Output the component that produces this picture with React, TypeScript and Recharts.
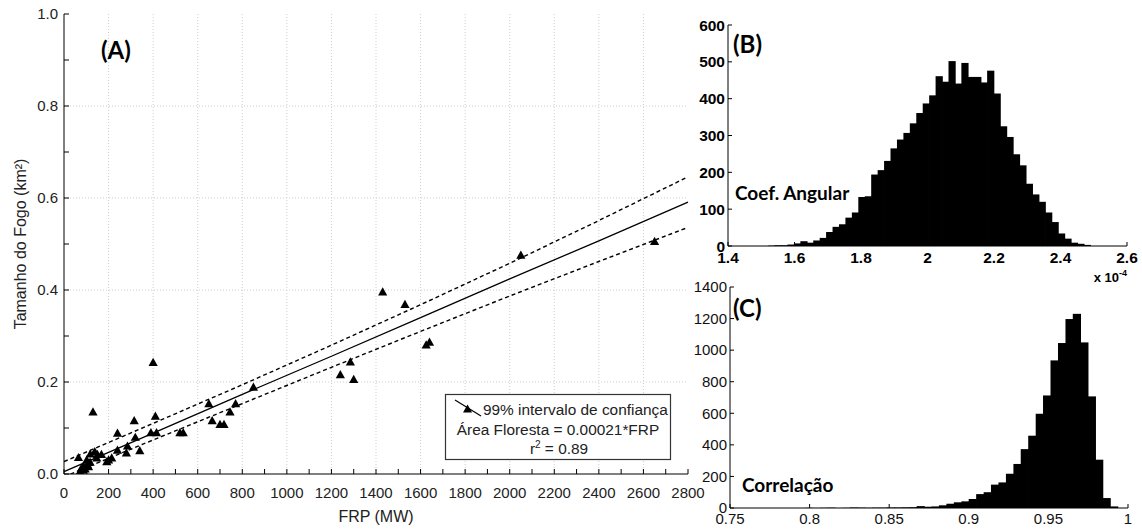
import React from 'react';
import { ComposedChart, XAxis, YAxis, Scatter, Line, Bar, ReferenceLine } from 'recharts';

// ---------- Panel A data ----------
const frpValues = [65, 130, 400, 240, 315, 410, 320, 390, 415, 520, 535, 650, 665, 700, 718, 745, 770, 850, 1240, 1285, 1300,
  240, 285, 280, 340, 192, 214, 138, 150, 118, 168, 147, 102, 117, 87, 95, 72, 87, 110, 104, 78, 200,
  1430, 1530, 1625, 1640, 2050, 2650];
const areaValues = [0.035, 0.134, 0.242, 0.088, 0.115, 0.125, 0.079, 0.089, 0.089, 0.089, 0.089, 0.152, 0.115, 0.107, 0.107, 0.134, 0.152, 0.188, 0.215, 0.243, 0.205,
  0.051, 0.06, 0.045, 0.05, 0.026, 0.034, 0.048, 0.042, 0.043, 0.042, 0.034, 0.03, 0.025, 0.016, 0.01, 0.005, 0.008, 0.015, 0.02, 0.012, 0.03,
  0.395, 0.368, 0.28, 0.286, 0.475, 0.505];

const bandFrp = [0, 400, 800, 1200, 1600, 2000, 2400, 2800];
const fitValues = [0.005, 0.089, 0.173, 0.256, 0.340, 0.424, 0.507, 0.591];
const upperValues = [0.027, 0.110, 0.194, 0.280, 0.368, 0.458, 0.551, 0.646];
const lowerValues = [-0.006, 0.074, 0.153, 0.232, 0.310, 0.387, 0.462, 0.536];

const aXTicks = [0, 100, 200, 300, 400, 500, 600, 700, 800, 900, 1000, 1100, 1200, 1300, 1400, 1500, 1600, 1700, 1800, 1900, 2000, 2100, 2200, 2300, 2400, 2500, 2600, 2700, 2800];
const aYTicks = [0, 0.1, 0.2, 0.3, 0.4, 0.5, 0.6, 0.7, 0.8, 0.9, 1.0];
const aGridX = [200, 400, 600, 800, 1000, 1200, 1400, 1600, 1800, 2000, 2200, 2400, 2600];
const aGridY = [0.2, 0.4, 0.6, 0.8];

// ---------- Panel B data (x 1e-4) ----------
const slopeBins = [1.5322, 1.5516, 1.5709, 1.5903, 1.6097, 1.6291, 1.6484, 1.6678, 1.6872, 1.7065, 1.7259, 1.7453, 1.7646, 1.7840, 1.8034, 1.8228, 1.8421, 1.8615, 1.8809, 1.9002, 1.9196, 1.9390, 1.9583, 1.9777, 1.9971, 2.0165, 2.0358, 2.0552, 2.0746, 2.0939, 2.1133, 2.1327, 2.1520, 2.1714, 2.1908, 2.2102, 2.2295, 2.2489, 2.2683, 2.2876, 2.3070, 2.3264, 2.3457, 2.3651, 2.3845, 2.4039, 2.4232, 2.4426, 2.4620, 2.4813];
const slopeCounts = [1, 2, 2, 4, 7, 13, 9, 15, 22, 38, 52, 59, 77, 91,
  133, 135, 194, 206, 231, 265, 289, 307, 333, 361, 387, 409,
  461, 446, 502, 441, 497, 459, 459, 444, 476, 414, 325, 296, 249, 219, 169, 140, 120, 91, 65, 34, 20, 9, 6, 3];
const bXTicks = [1.4, 1.6, 1.8, 2, 2.2, 2.4, 2.6];
const bYTicks = [0, 100, 200, 300, 400, 500, 600];

// ---------- Panel C data ----------
const corrBins = [0.7625, 0.7672, 0.7718, 0.7765, 0.7812, 0.7858, 0.7905, 0.7952, 0.7999, 0.8045, 0.8092, 0.8139, 0.8185, 0.8232, 0.8279, 0.8326, 0.8372, 0.8419, 0.8466, 0.8512, 0.8559, 0.8606, 0.8653, 0.8699, 0.8746, 0.8793, 0.8839, 0.8886, 0.8933, 0.8980, 0.9026, 0.9073, 0.9120, 0.9166, 0.9213, 0.9260, 0.9307, 0.9353, 0.9400, 0.9447, 0.9493, 0.9540, 0.9587, 0.9634, 0.9680, 0.9727, 0.9774, 0.9820, 0.9867, 0.9914];
const corrCounts = [0, 0, 0, 0, 0, 0, 0, 0, 1, 0,
  1, 2, 0, 1, 3, 2, 1, 2, 2, 3,
  3, 4, 5, 12, 8, 10, 17, 27, 36, 42,
  57, 88, 100, 148, 162, 217, 279, 373, 458, 597,
  713, 935, 1045, 1197, 1230, 1049, 707, 306, 63, 10];
const cXTicks = [0.75, 0.8, 0.85, 0.9, 0.95, 1];
const cYTicks = [0, 200, 400, 600, 800, 1000, 1200, 1400];

// ---------- derived tables ----------
const scatterData = frpValues.map((x, i) => ({ x, y: areaValues[i] }));
const fitData = bandFrp.map((x, i) => ({ x, y: fitValues[i] }));
const upperData = bandFrp.map((x, i) => ({ x, y: upperValues[i] }));
const lowerData = bandFrp.map((x, i) => ({ x, y: lowerValues[i] }));
const slopeData = slopeBins.map((x, i) => ({ x, y: slopeCounts[i] }));
const corrData = corrBins.map((x, i) => ({ x, y: corrCounts[i] }));

const SANS = '"Liberation Sans", Arial, sans-serif';
const LABELF = 'Lato, "Open Sans", sans-serif';

const Triangle = (p: any) => {
  const { cx, cy } = p;
  if (cx == null || cy == null) return null;
  return <polygon points={`${cx},${cy - 5} ${cx - 4.6},${cy + 3.2} ${cx + 4.6},${cy + 3.2}`} fill="#000" />;
};

// histogram bar: widened slightly so neighbouring bins touch (Recharts floors bar widths)
const HistBar = (p: any) => {
  const { x, y, width, height } = p;
  if (x == null || y == null || !height || height <= 0) return null;
  return <rect x={x - 0.6} y={y} width={width + 1.2} height={height} fill="#000" />;
};

const axisLine = { stroke: '#000', strokeWidth: 1 };
const tickLine = { stroke: '#000', strokeWidth: 1 };

function PanelA() {
  return (
    <ComposedChart width={720} height={529} margin={{ top: 14, right: 32, bottom: 0, left: 14 }}
      style={{ position: 'absolute', left: 0, top: 0 }}>
      <XAxis xAxisId="b" type="number" dataKey="x" domain={[0, 2800]} ticks={aXTicks} interval={0}
        tickFormatter={(v: number) => (v % 200 === 0 ? String(v) : '')}
        tickSize={-5} tickMargin={18} height={55} axisLine={axisLine} tickLine={tickLine}
        tick={{ fontSize: 15, fill: '#222', fontFamily: SANS }}
        label={{ value: 'FRP (MW)', position: 'insideBottom', offset: 7, style: { fontSize: 16, fill: '#222', fontFamily: SANS } }} />
      <XAxis xAxisId="t" orientation="top" type="number" dataKey="x" domain={[0, 2800]} ticks={aXTicks} interval={0}
        tick={false} tickSize={-5} height={0} axisLine={axisLine} tickLine={tickLine} />
      <YAxis yAxisId="l" type="number" dataKey="y" domain={[0, 1]} ticks={aYTicks} interval={0} allowDataOverflow
        tickFormatter={(v: number) => (Math.round(v * 10) % 2 === 0 ? v.toFixed(1) : '')}
        width={50} tickSize={-5} tickMargin={11} axisLine={axisLine} tickLine={tickLine}
        tick={{ fontSize: 15, fill: '#222', fontFamily: SANS }}
        label={{ value: 'Tamanho do Fogo (km²)', angle: -90, position: 'insideLeft', offset: 6, style: { textAnchor: 'middle', fontSize: 16, fill: '#222', fontFamily: SANS } }} />
      <YAxis yAxisId="r" orientation="right" type="number" dataKey="y" domain={[0, 1]} ticks={aYTicks} interval={0} allowDataOverflow
        tick={false} width={0} tickSize={-5} axisLine={axisLine} tickLine={tickLine} />
      {aGridX.map((v) => (
        <ReferenceLine key={'gx' + v} xAxisId="b" yAxisId="l" x={v} stroke="#cfcfcf" strokeDasharray="1 2" />
      ))}
      {aGridY.map((v) => (
        <ReferenceLine key={'gy' + v} xAxisId="b" yAxisId="l" y={v} stroke="#cfcfcf" strokeDasharray="1 2" />
      ))}
      <Line xAxisId="b" yAxisId="l" data={upperData} dataKey="y" type="linear" dot={false} stroke="#000" strokeWidth={1.4} strokeDasharray="4 3" isAnimationActive={false} />
      <Line xAxisId="b" yAxisId="l" data={lowerData} dataKey="y" type="linear" dot={false} stroke="#000" strokeWidth={1.4} strokeDasharray="4 3" isAnimationActive={false} />
      <Line xAxisId="b" yAxisId="l" data={fitData} dataKey="y" type="linear" dot={false} stroke="#000" strokeWidth={1.3} isAnimationActive={false} />
      <Scatter xAxisId="b" yAxisId="l" data={scatterData} dataKey="y" shape={Triangle} isAnimationActive={false} />
    </ComposedChart>
  );
}

const XExpLabel = (props: any) => {
  const vb = props.viewBox || {};
  return (
    <text x={vb.x + vb.width} y={vb.y + 36} textAnchor="end" fontSize={13} fontWeight="bold" fontFamily={SANS} fill="#000">
      x 10<tspan dy={-6} fontSize={9}>-4</tspan>
    </text>
  );
};

function PanelB() {
  return (
    <ComposedChart width={462} height={290} data={slopeData} barCategoryGap={0} barGap={0}
      margin={{ top: 25, right: 15, bottom: 0, left: 8 }}
      style={{ position: 'absolute', left: 680, top: 0 }}>
      <XAxis xAxisId="b" type="number" dataKey="x" domain={[1.4, 2.6]} ticks={bXTicks} interval={0}
        tickFormatter={(v: number) => String(+v.toFixed(1))}
        tickSize={-4} tickMargin={10} height={44} axisLine={axisLine} tickLine={tickLine}
        tick={{ fontSize: 15.5, fontWeight: 'bold', fill: '#000', fontFamily: SANS }}
        label={{ content: XExpLabel }} />
      <XAxis xAxisId="t" orientation="top" type="number" dataKey="x" domain={[1.4, 2.6]} ticks={bXTicks} interval={0}
        tick={false} tickSize={-4} height={0} axisLine={axisLine} tickLine={tickLine} />
      <YAxis yAxisId="l" type="number" domain={[0, 600]} ticks={bYTicks} interval={0}
        width={40} tickSize={-4} tickMargin={7} axisLine={axisLine} tickLine={tickLine}
        tick={{ fontSize: 15.5, fontWeight: 'bold', fill: '#000', fontFamily: SANS }} />
      <YAxis yAxisId="r" orientation="right" type="number" domain={[0, 600]} ticks={bYTicks} interval={0}
        tick={false} width={0} tickSize={-4} axisLine={axisLine} tickLine={tickLine} />
      <Bar xAxisId="b" yAxisId="l" dataKey="y" fill="#000" shape={HistBar} isAnimationActive={false} />
    </ComposedChart>
  );
}

function PanelC() {
  return (
    <ComposedChart width={462} height={259} data={corrData} barCategoryGap={0} barGap={0}
      margin={{ top: 17, right: 14, bottom: 0, left: 10 }}
      style={{ position: 'absolute', left: 680, top: 270 }}>
      <XAxis xAxisId="b" type="number" dataKey="x" domain={[0.75, 1]} ticks={cXTicks} interval={0}
        tickFormatter={(v: number) => String(+v.toFixed(2))}
        tickSize={-4} tickMargin={9} height={21} axisLine={axisLine} tickLine={tickLine}
        tick={{ fontSize: 15, fill: '#111', fontFamily: SANS }} />
      <XAxis xAxisId="t" orientation="top" type="number" dataKey="x" domain={[0.75, 1]} ticks={cXTicks} interval={0}
        tick={false} tickSize={-4} height={0} axisLine={axisLine} tickLine={tickLine} />
      <YAxis yAxisId="l" type="number" domain={[0, 1400]} ticks={cYTicks} interval={0}
        width={40} tickSize={-4} tickMargin={7} axisLine={axisLine} tickLine={tickLine}
        tick={{ fontSize: 15, fill: '#111', fontFamily: SANS }} />
      <YAxis yAxisId="r" orientation="right" type="number" domain={[0, 1400]} ticks={cYTicks} interval={0}
        tick={false} width={0} tickSize={-4} axisLine={axisLine} tickLine={tickLine} />
      <Bar xAxisId="b" yAxisId="l" dataKey="y" fill="#000" shape={HistBar} isAnimationActive={false} />
    </ComposedChart>
  );
}

function Annotations() {
  return (
    <svg width={1142} height={529} style={{ position: 'absolute', left: 0, top: 0, pointerEvents: 'none' }}>
      <text x={101} y={59} fontSize={24} fontWeight="bold" fontFamily={LABELF} fill="#000">(A)</text>
      <text x={733} y={53} fontSize={24} fontWeight="bold" fontFamily={LABELF} fill="#000">(B)</text>
      <text x={733} y={317} fontSize={24} fontWeight="bold" fontFamily={LABELF} fill="#000">(C)</text>
      <text x={735} y={200} fontSize={19} fontWeight="bold" fontFamily={LABELF} fill="#000">Coef. Angular</text>
      <text x={742} y={492} fontSize={19} fontWeight="bold" fontFamily={LABELF} fill="#000">Correlação</text>
      <g>
        <rect x={445.5} y={394.5} width={225} height={65} fill="#fff" stroke="#333" strokeWidth={1.2} />
        <line x1={455} y1={400} x2={481} y2={416} stroke="#000" strokeWidth={1.2} />
        <polygon points="467.5,404.5 463,412.5 472,412.5" fill="#000" />
        <text x={483} y={415} fontSize={15.4} fontFamily={SANS} fill="#222">99% intervalo de confiança</text>
        <text x={558} y={435} fontSize={15.4} fontFamily={SANS} fill="#222" textAnchor="middle">Área Floresta = 0.00021*FRP</text>
        <text x={559} y={454} fontSize={15.4} fontFamily={SANS} fill="#222" textAnchor="middle">r<tspan dy={-6} fontSize={10}>2</tspan><tspan dy={6}> = 0.89</tspan></text>
      </g>
    </svg>
  );
}

export default function App() {
  return (
    <div style={{ position: 'absolute', left: 0, top: 0, width: 1142, height: 529, background: '#fff' }}>
      <PanelA />
      <PanelB />
      <PanelC />
      <Annotations />
    </div>
  );
}
